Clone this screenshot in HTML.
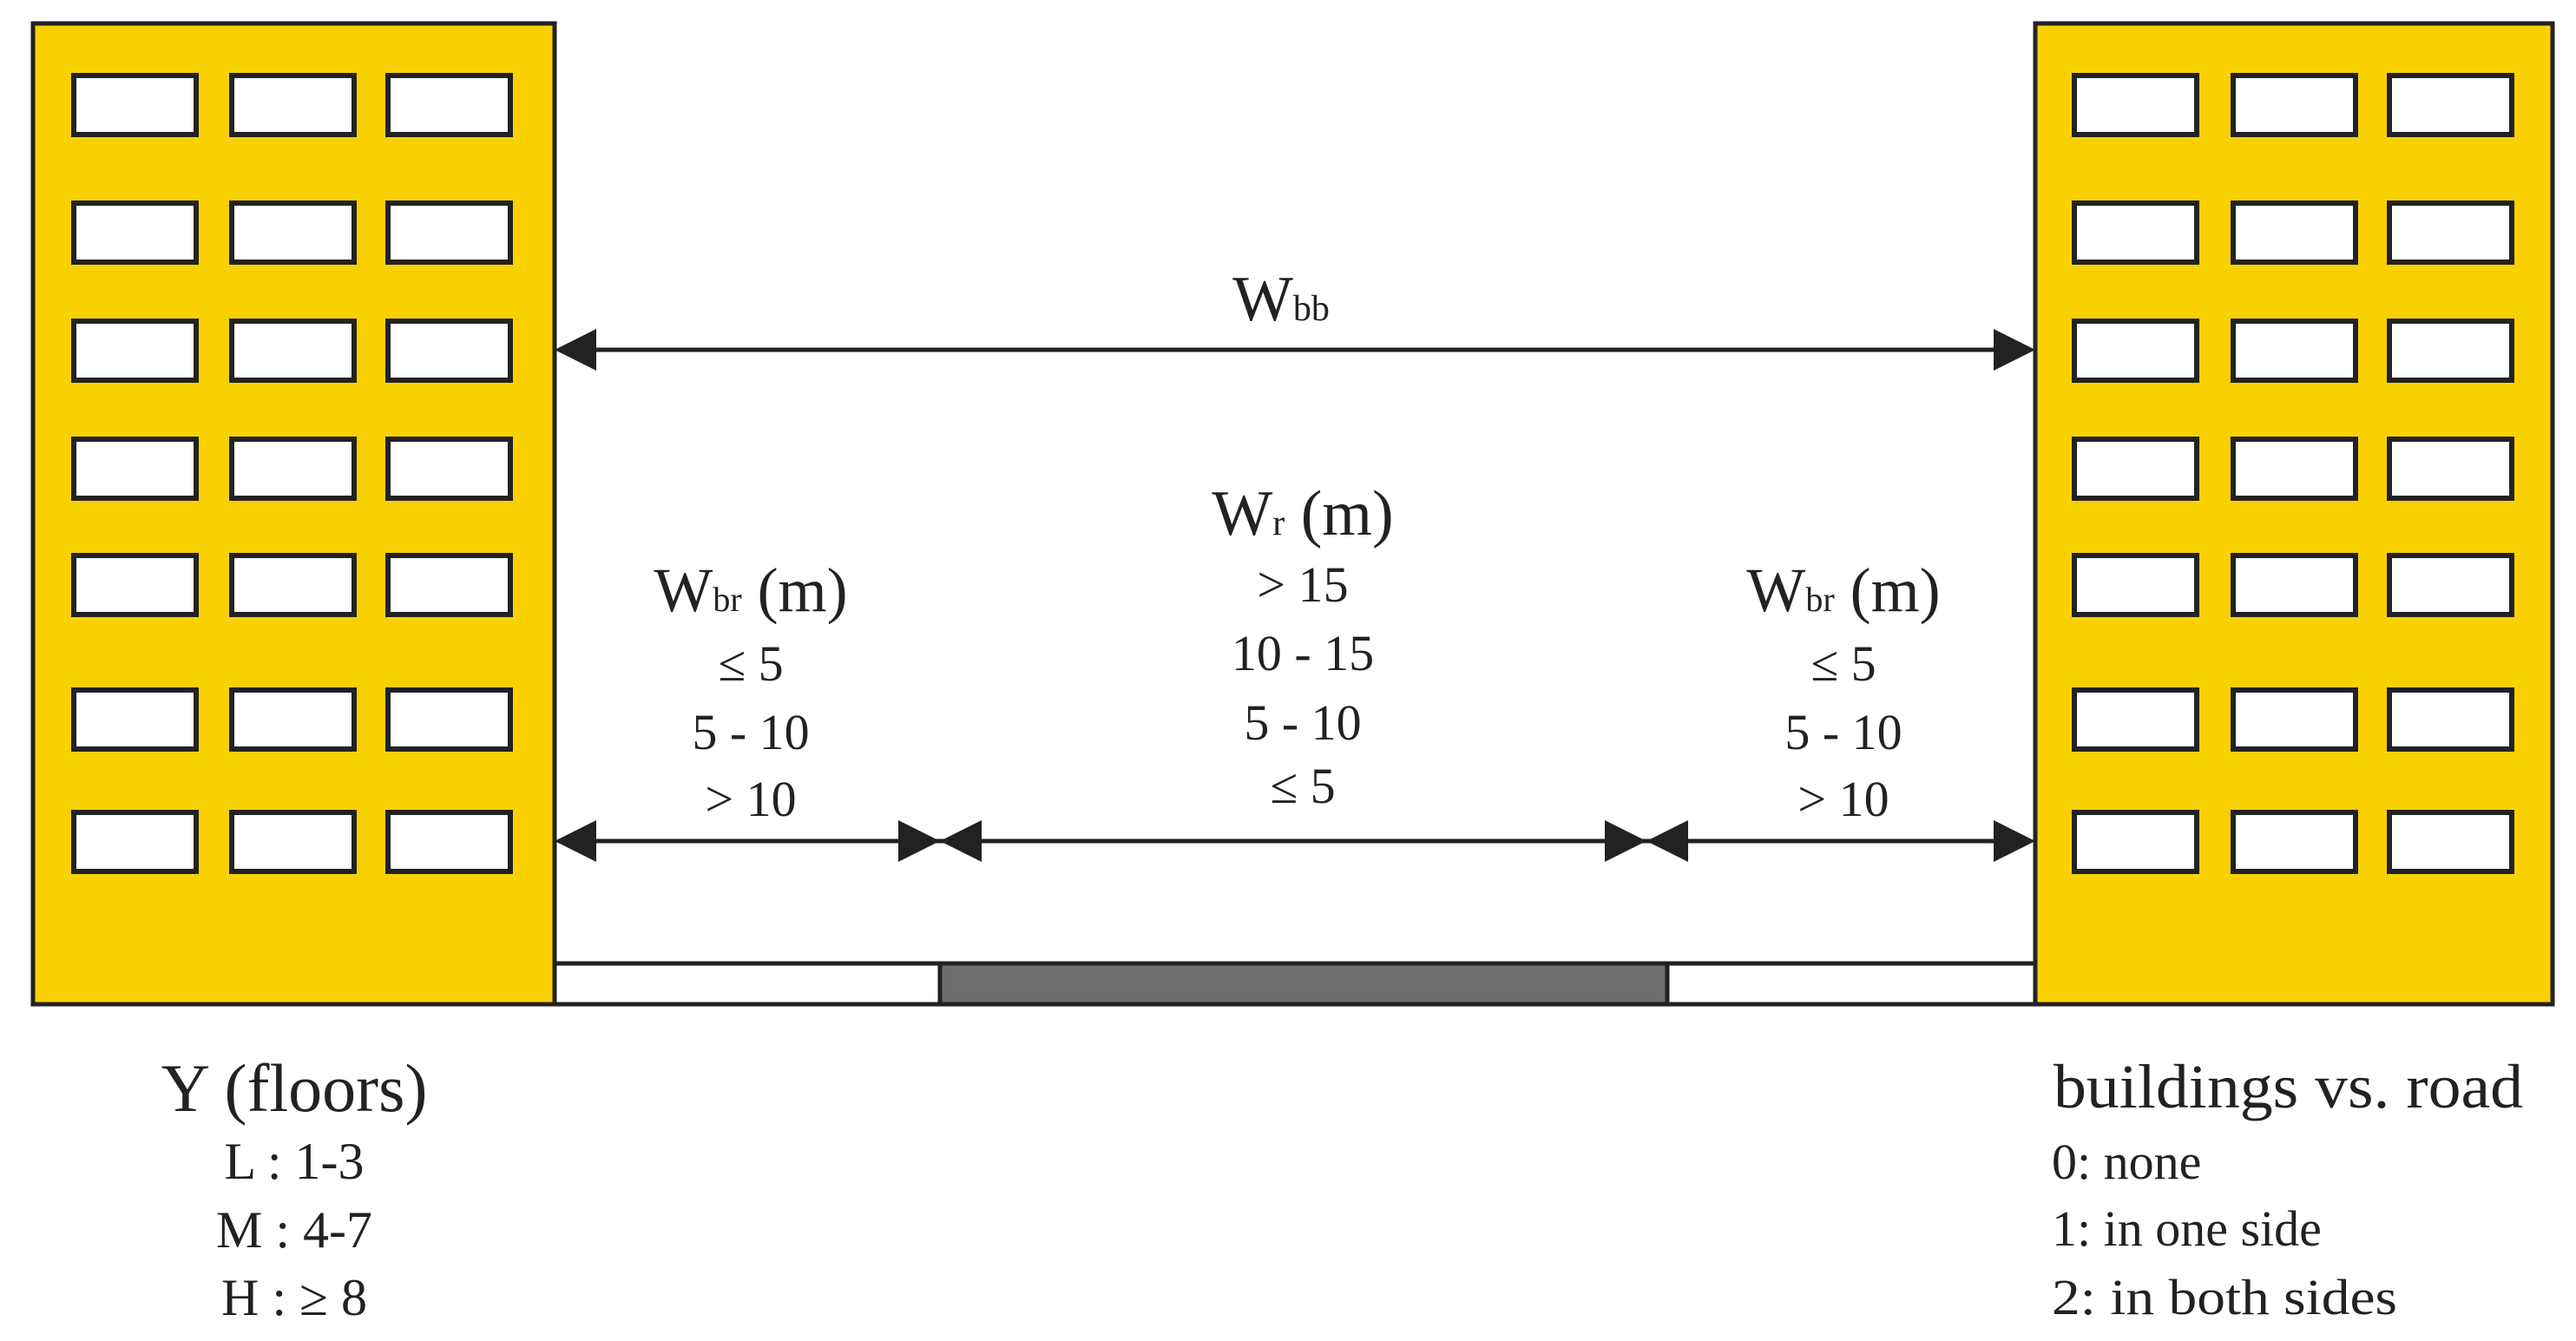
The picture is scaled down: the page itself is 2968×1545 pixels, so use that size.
<!DOCTYPE html>
<html><head><meta charset="utf-8"><style>
html,body{margin:0;padding:0;background:#fff;}
svg{display:block;}
text{font-family:"Liberation Serif",serif;fill:#222;}
</style></head><body>
<svg width="2968" height="1545" viewBox="0 0 2968 1545" xmlns="http://www.w3.org/2000/svg">
<defs>
<g id="winsL">
</g>
</defs>
<!-- road -->
<rect x="639" y="1110" width="1706" height="47" fill="#fff" stroke="#222" stroke-width="5"/>
<rect x="1083" y="1110" width="838" height="47" fill="#6e6e6e" stroke="#222" stroke-width="5"/>
<!-- buildings -->
<rect x="38" y="27" width="601" height="1130" fill="#F9D100" stroke="#222" stroke-width="5"/>
<rect x="2345" y="27" width="596" height="1130" fill="#F9D100" stroke="#222" stroke-width="5"/>
<g fill="#fff" stroke="#222" stroke-width="6">
<!-- left windows -->
<g id="colL">
<rect x="85" y="87" width="141" height="68"/><rect x="85" y="234" width="141" height="68"/><rect x="85" y="370" width="141" height="68"/><rect x="85" y="506" width="141" height="68"/><rect x="85" y="640" width="141" height="68"/><rect x="85" y="795" width="141" height="68"/><rect x="85" y="936" width="141" height="68"/>
</g>
<use href="#colL" x="182"/>
<use href="#colL" x="362"/>
<use href="#colL" x="2305"/>
<use href="#colL" x="2488"/>
<use href="#colL" x="2668"/>
</g>
<!-- arrows -->
<g stroke="#222" stroke-width="5">
<line x1="660" y1="403" x2="2325" y2="403"/>
<line x1="660" y1="969" x2="2325" y2="969"/>
</g>
<g fill="#222">
<polygon points="639,403 687,379 687,427"/>
<polygon points="2345,403 2297,379 2297,427"/>
<polygon points="639,969 687,945 687,993"/>
<polygon points="1083,969 1035,945 1035,993"/>
<polygon points="1083,969 1131,945 1131,993"/>
<polygon points="1897,969 1849,945 1849,993"/>
<polygon points="1897,969 1945,945 1945,993"/>
<polygon points="2345,969 2297,945 2297,993"/>
</g>
<!-- labels -->
<g text-anchor="middle">
<text x="1476" y="369" font-size="74">W<tspan font-size="42">bb</tspan></text>
<text x="1501" y="616" font-size="74">W<tspan font-size="42">r</tspan> (m)</text>
<text x="1501" y="693" font-size="58">&gt; 15</text>
<text x="1501" y="772" font-size="58">10 - 15</text>
<text x="1501" y="852" font-size="58">5 - 10</text>
<text x="1501" y="925" font-size="58">≤ 5</text>
<text x="865" y="704" font-size="72">W<tspan font-size="40">br</tspan> (m)</text>
<text x="865" y="784" font-size="58">≤ 5</text>
<text x="865" y="863" font-size="58">5 - 10</text>
<text x="865" y="940" font-size="58">&gt; 10</text>
<text x="2124" y="704" font-size="72">W<tspan font-size="40">br</tspan> (m)</text>
<text x="2124" y="784" font-size="58">≤ 5</text>
<text x="2124" y="863" font-size="58">5 - 10</text>
<text x="2124" y="940" font-size="58">&gt; 10</text>
<text x="339" y="1280" font-size="78">Y (floors)</text>
<text x="339" y="1358" font-size="60">L : 1-3</text>
<text x="339" y="1437" font-size="60">M : 4-7</text>
<text x="339" y="1515" font-size="60">H : ≥ 8</text>
</g>
<text x="2366" y="1276" font-size="72" textLength="541" lengthAdjust="spacingAndGlyphs">buildings vs. road</text>
<text x="2364" y="1358" font-size="58">0: none</text>
<text x="2364" y="1435" font-size="58">1: in one side</text>
<text x="2364" y="1514" font-size="58" textLength="398" lengthAdjust="spacingAndGlyphs">2: in both sides</text>
</svg>
</body></html>
